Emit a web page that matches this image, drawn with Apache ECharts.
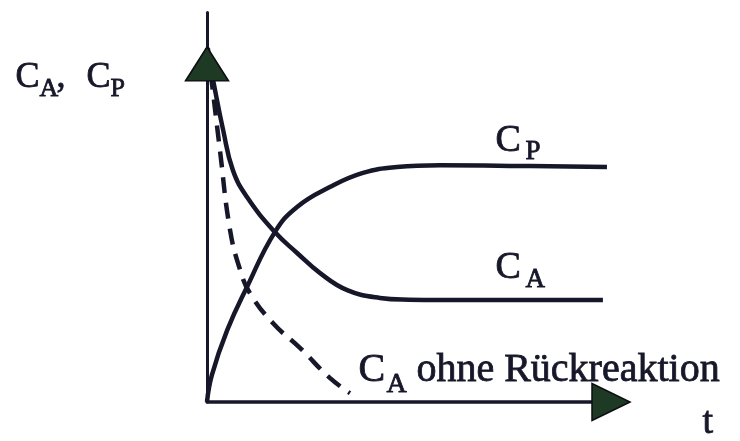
<!DOCTYPE html>
<html>
<head>
<meta charset="utf-8">
<style>
  html, body { margin: 0; padding: 0; background: #ffffff; }
  #chart { width: 740px; height: 441px; }
</style>
<script src="https://cdn.jsdelivr.net/npm/echarts@6/dist/echarts.min.js"></script>
</head>
<body>
<div id="chart"></div>
<script>
// Time axis values (arbitrary units) and concentrations (relative to C_A0 = 1)
const cA_t    = [0, 0.15, 0.40, 0.64, 0.99, 1.68, 2.23, 2.80, 3.47, 4.28, 5.00, 5.77, 7.50, 9.80];
const cA_val  = [1.0, 0.91, 0.768, 0.655, 0.579, 0.48, 0.421, 0.364, 0.316, 0.294, 0.289, 0.288, 0.288, 0.288];

const cP_t    = [0, 0.12, 0.50, 0.99, 1.68, 2.23, 3.04, 3.86, 4.70, 5.77, 7.50, 9.90];
const cP_val  = [0, 0.076, 0.203, 0.325, 0.48, 0.551, 0.607, 0.647, 0.664, 0.669, 0.667, 0.664];

const cA0_t   = [0.02, 0.32, 0.57, 0.82, 1.06, 1.63, 2.30, 3.04, 3.54];
const cA0_val = [1.0, 0.712, 0.486, 0.373, 0.308, 0.223, 0.153, 0.068, 0.025];

const tMax = 10;
const cMax = 1.1;
const yArrowAt = 0.955;   // arrowhead position on the concentration axis

const ink = '#17172a';
const arrowFill = '#1e3a24';
const serif = '"Liberation Serif", "DejaVu Serif", serif';

const zip = (xs, ys) => xs.map((x, i) => [x, ys[i]]);

const chart = echarts.init(document.getElementById('chart'), null, { renderer: 'canvas' });

const lineBase = {
  type: 'line',
  showSymbol: false,
  symbol: 'none',
  smooth: 0.45,
  silent: true,
  animation: false
};

// scanned-print look: glyphs slightly thickened with a thin outline
function label(text, left, top, size) {
  return {
    type: 'text', left: left, top: top, silent: true,
    style: { text: text, font: size + 'px ' + serif, fill: ink, stroke: ink, lineWidth: 0.8 }
  };
}

chart.setOption({
  backgroundColor: '#ffffff',
  animation: false,
  grid: { left: 207, right: 129, top: 12.6, bottom: 39 },
  xAxis: {
    type: 'value', min: 0, max: tMax,
    axisLine: { show: true, lineStyle: { color: ink, width: 3.5 } },
    axisTick: { show: false }, axisLabel: { show: false }, splitLine: { show: false }
  },
  yAxis: {
    type: 'value', min: 0, max: cMax,
    axisLine: { show: true, lineStyle: { color: ink, width: 3 } },
    axisTick: { show: false }, axisLabel: { show: false }, splitLine: { show: false }
  },
  series: [
    Object.assign({}, lineBase, {
      name: 'C_A ohne Rückreaktion',
      data: zip(cA0_t, cA0_val),
      lineStyle: { color: ink, width: 4.5, type: [16, 10] },
      z: 2
    }),
    Object.assign({}, lineBase, {
      name: 'C_A',
      data: zip(cA_t, cA_val),
      lineStyle: { color: ink, width: 4.5 },
      z: 3
    }),
    Object.assign({}, lineBase, {
      name: 'C_P',
      data: zip(cP_t, cP_val),
      lineStyle: { color: ink, width: 4.5 },
      z: 3,
      markPoint: {
        silent: true,
        animation: false,
        label: { show: false },
        data: [
          {
            coord: [0, yArrowAt],
            symbol: 'triangle',
            symbolSize: [43, 34],
            itemStyle: { color: arrowFill, borderColor: '#0d0d14', borderWidth: 1.5 }
          },
          {
            coord: [tMax, 0],
            symbol: 'triangle',
            symbolSize: [37, 38],
            symbolRotate: -90,
            itemStyle: { color: arrowFill, borderColor: '#0d0d14', borderWidth: 1.5 }
          }
        ]
      }
    })
  ],
  graphic: [
    // axis caption: C_A, C_P
    label('C', 15, 59, 36),
    label('A', 39, 76, 26),
    label(',', 56, 59, 36),
    label('C', 86, 59, 36),
    label('P', 110, 76, 26),
    // curve labels
    label('C', 495, 122, 38),
    label('P', 525, 138, 27),
    label('C', 495, 249, 38),
    label('A', 525, 266, 27),
    label('C', 358, 350, 40),
    label('A', 386, 370, 28),
    label('ohne Rückreaktion', 416, 350, 40),
    label('t', 702, 404, 38)
  ]
});
</script>
</body>
</html>
